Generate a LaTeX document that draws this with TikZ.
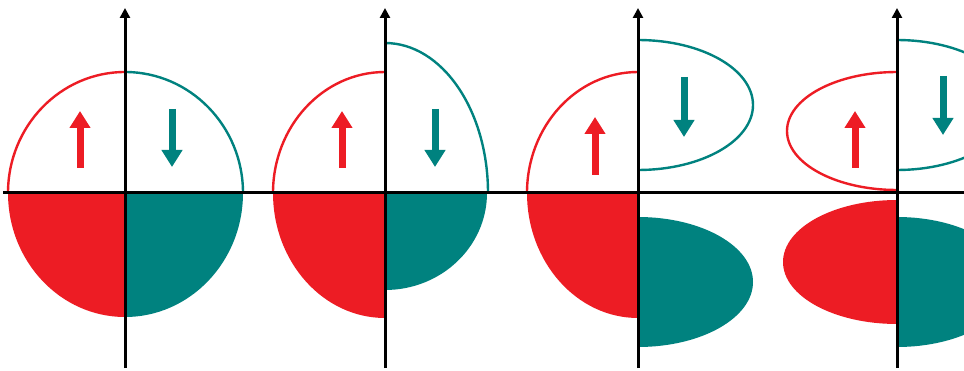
\documentclass[tikz,border=0pt]{standalone}
\usepackage{xcolor}
\definecolor{spinred}{HTML}{ED1C24}
\definecolor{spinteal}{HTML}{00827F}
\usepackage{tikz}
\usetikzlibrary{arrows.meta}

\begin{document}
\begin{tikzpicture}[x=1pt,y=1pt,
  lobe/.style={line width=2.4pt},
  axisline/.style={line width=3pt,black},
  spinarrow/.style={line width=7pt,-{Triangle[width=20pt,length=17pt]}}]
\clip (0,0) rectangle (964,370);
\fill[white] (0,0) rectangle (964,370);
% axis origins
\coordinate (o1) at (125,177);
\coordinate (o2) at (385,177);
\coordinate (o3) at (638,177);
\coordinate (o4) at (897,177);
% panel 1
\fill[spinred] (o1) -- ++(-117,0) arc[start angle=180,end angle=270,x radius=117,y radius=124] -- cycle;
\fill[spinteal] (o1) -- ++(118,0) arc[start angle=0,end angle=-90,x radius=118,y radius=124] -- cycle;
\draw[lobe,spinred] (o1) ++(0,121) arc[start angle=90,end angle=180,x radius=117,y radius=121];
\draw[lobe,spinteal] (o1) ++(0,121) arc[start angle=90,end angle=0,x radius=118,y radius=121];
% panel 2
\fill[spinred] (o2) -- ++(-112,0) arc[start angle=180,end angle=270,x radius=112,y radius=125] -- cycle;
\fill[spinteal] (o2) -- ++(102,0) arc[start angle=0,end angle=-90,x radius=102,y radius=97] -- cycle;
\draw[lobe,spinred] (o2) ++(0,121) arc[start angle=90,end angle=180,x radius=112,y radius=121];
\draw[lobe,spinteal] (o2) ++(0,150) arc[start angle=90,end angle=0,x radius=103,y radius=150];
% panel 3
\fill[spinred] (o3) -- ++(-111,0) arc[start angle=180,end angle=270,x radius=111,y radius=125] -- cycle;
\fill[spinteal] (o3) ++(0,-24) arc[start angle=90,end angle=-90,x radius=115,y radius=65] -- cycle;
\draw[lobe,spinred] (o3) ++(0,121) arc[start angle=90,end angle=180,x radius=111,y radius=121];
\draw[lobe,spinteal] (o3) ++(0,153) arc[start angle=90,end angle=-90,x radius=115,y radius=65];
% panel 4
\fill[spinred] (o4) ++(0,-7) arc[start angle=90,end angle=270,x radius=114,y radius=62] -- cycle;
\fill[spinteal] (o4) ++(0,-24) arc[start angle=90,end angle=-90,x radius=115,y radius=65] -- cycle;
\draw[lobe,spinred] (o4) ++(0,121) arc[start angle=90,end angle=270,x radius=110,y radius=59];
\draw[lobe,spinteal] (o4) ++(0,153) arc[start angle=90,end angle=-90,x radius=115,y radius=65];
% axes
\draw[axisline] (3,177) -- (964,177);
\foreach \n in {1,...,4}
  \draw[axisline,-{Triangle[width=10pt,length=10pt]}] (o\n) ++(0,-175) -- ++(0,360);
% spin arrows
\draw[spinarrow,spinred] (o1) ++(-45,25) -- ++(0,57);
\draw[spinarrow,spinteal] (o1) ++(47,84) -- ++(0,-58);
\draw[spinarrow,spinred] (o2) ++(-43,25) -- ++(0,57);
\draw[spinarrow,spinteal] (o2) ++(50,84) -- ++(0,-58);
\draw[spinarrow,spinred] (o3) ++(-43,18) -- ++(0,58);
\draw[spinarrow,spinteal] (o3) ++(46,116) -- ++(0,-60);
\draw[spinarrow,spinred] (o4) ++(-42,25) -- ++(0,57);
\draw[spinarrow,spinteal] (o4) ++(46,117) -- ++(0,-59);
\end{tikzpicture}
\end{document}
